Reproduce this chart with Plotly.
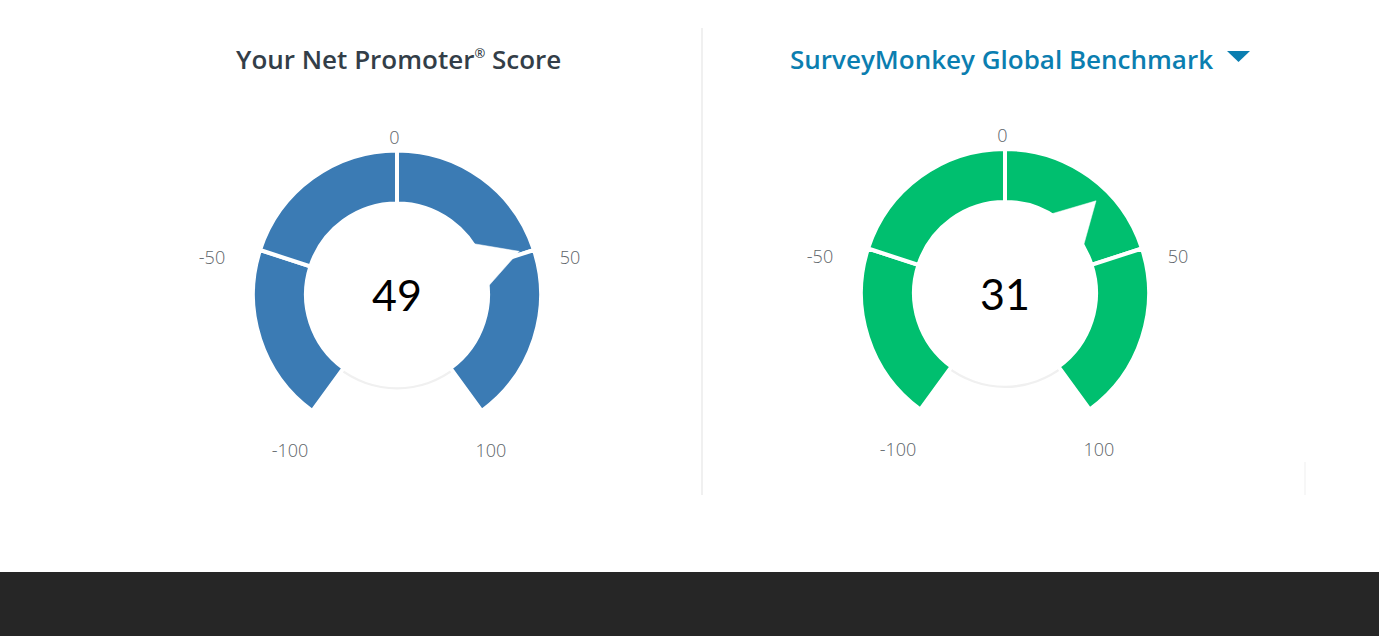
import plotly.graph_objects as go

# ---------------- data ----------------
TITLES = ["Your Net Promoter<sup><span style='font-size:13px'>®</span></sup> Score",
          "SurveyMonkey Global Benchmark"]
SCORES = [49, 31]
RING_COLORS = ["#3b7bb4", "#00bf6f"]
SEGMENT_START = [-100, -50, 0, 50]
SEGMENT_END = [-50, 0, 50, 100]
TICK_VALUES = [-100, -50, 0, 50, 100]
TICK_LABELS = ["-100", "-50", "0", "50", "100"]

# ---------------- styling / layout constants ----------------
W, H = 1379, 636
DEG_PER_POINT = 1.44           # angular scale: value -> degrees clockwise from top
RING_INNER = 0.632             # radial-axis units (ring outer edge = 1)
R_MAX = 1.4                    # radial axis extent (room for tick labels)
POINTER_BASE_R = 0.64
POINTER_TIP_R = 0.90
POINTER_HALF = 14              # degrees
LABEL_THETA = [-145.9, -79.4, -1.0, 78.7, 149.3]
LABEL_R = [1.326, 1.307, 1.078, 1.225, 1.278]
VALUE_OFFSET_R = 0.04          # nudge the big number slightly below centre
CENTERS = [(397, 294.5), (1005, 293)]   # gauge centres in px
RING_PX = 144                           # px for radial value 1
RADIUS_PX = RING_PX * R_MAX

fig = go.Figure()

for i, (score, color) in enumerate(zip(SCORES, RING_COLORS)):
    pid = "polar" if i == 0 else f"polar{i + 1}"
    sub = pid
    # subtle shadow under the inner circle (visible in the bottom gap)
    fig.add_trace(go.Barpolar(
        r=[0.016], base=[RING_INNER + 0.012], theta=[180],
        width=[2 * (180 - 100 * DEG_PER_POINT) + 6],
        marker=dict(color="#f0f0f0", line=dict(width=0)),
        hoverinfo="skip", showlegend=False, subplot=sub))
    # ring segments
    mids = [(a + b) / 2 * DEG_PER_POINT for a, b in zip(SEGMENT_START, SEGMENT_END)]
    widths = [(b - a) * DEG_PER_POINT for a, b in zip(SEGMENT_START, SEGMENT_END)]
    fig.add_trace(go.Barpolar(
        r=[1 - RING_INNER] * len(mids), base=[RING_INNER] * len(mids),
        theta=mids, width=widths,
        marker=dict(color=color, line=dict(color="white", width=4)),
        hoverinfo="skip", showlegend=False, subplot=sub))
    # pointer
    ang = score * DEG_PER_POINT
    fig.add_trace(go.Scatterpolar(
        r=[POINTER_BASE_R, POINTER_TIP_R, POINTER_BASE_R, POINTER_BASE_R],
        theta=[ang - POINTER_HALF, ang, ang + POINTER_HALF, ang - POINTER_HALF],
        mode="lines", fill="toself", fillcolor="white",
        line=dict(color="white", width=0.5),
        hoverinfo="skip", showlegend=False, subplot=sub))
    # tick labels
    fig.add_trace(go.Scatterpolar(
        r=LABEL_R, theta=LABEL_THETA, mode="text", text=TICK_LABELS,
        textposition="middle center",
        textfont=dict(family="Open Sans", size=18, color="#5d6469", weight=300),
        cliponaxis=False, hoverinfo="skip", showlegend=False, subplot=sub))
    # score value
    fig.add_trace(go.Scatterpolar(
        r=[VALUE_OFFSET_R], theta=[180], mode="text", text=[str(score)],
        textposition="middle center",
        textfont=dict(family="Lato", size=43, color="#000000"),
        cliponaxis=False, hoverinfo="skip", showlegend=False, subplot=sub))

    cx, cy = CENTERS[i]
    polar = dict(
        domain=dict(x=[(cx - RADIUS_PX) / W, (cx + RADIUS_PX) / W],
                    y=[(H - cy - RADIUS_PX) / H, (H - cy + RADIUS_PX) / H]),
        bgcolor="rgba(0,0,0,0)",
        bargap=0,
        radialaxis=dict(visible=False, range=[0, R_MAX]),
        angularaxis=dict(visible=False, rotation=90, direction="clockwise"),
    )
    fig.update_layout(**{pid: polar})

# titles
fig.add_annotation(x=398 / W, y=(H - 59) / H, xref="paper", yref="paper",
                   text=TITLES[0], showarrow=False, xanchor="center", yanchor="middle",
                   font=dict(family="Open Sans", size=26, color="#333e48", weight=600))
fig.add_annotation(x=1001.5 / W, y=(H - 59) / H, xref="paper", yref="paper",
                   text=TITLES[1], showarrow=False, xanchor="center", yanchor="middle",
                   font=dict(family="Open Sans", size=26, color="#0b7eb0", weight=600))

shapes = [
    # caret next to benchmark title
    dict(type="path", xref="paper", yref="paper",
         path=f"M {1227 / W},{(H - 51) / H} L {1250 / W},{(H - 51) / H} L {1238.5 / W},{(H - 62) / H} Z",
         fillcolor="#0b7eb0", line=dict(width=0)),
    # vertical divider
    dict(type="line", xref="paper", yref="paper", x0=702 / W, x1=702 / W,
         y0=(H - 495) / H, y1=(H - 28) / H, line=dict(color="#ebebeb", width=1.5)),
    # small right-edge line
    dict(type="line", xref="paper", yref="paper", x0=1305 / W, x1=1305 / W,
         y0=(H - 495) / H, y1=(H - 462) / H, line=dict(color="#efefef", width=1)),
    # dark footer band
    dict(type="rect", xref="paper", yref="paper", x0=0, x1=1, y0=0, y1=64 / H,
         fillcolor="#262626", line=dict(width=0)),
]

fig.update_layout(
    width=W, height=H,
    margin=dict(l=0, r=0, t=0, b=0),
    paper_bgcolor="white", plot_bgcolor="white",
    showlegend=False,
    shapes=shapes,
)

fig.write_html("out.html", config={"displayModeBar": False},
               post_script="document.body.style.margin='0';document.body.style.padding='0';")
